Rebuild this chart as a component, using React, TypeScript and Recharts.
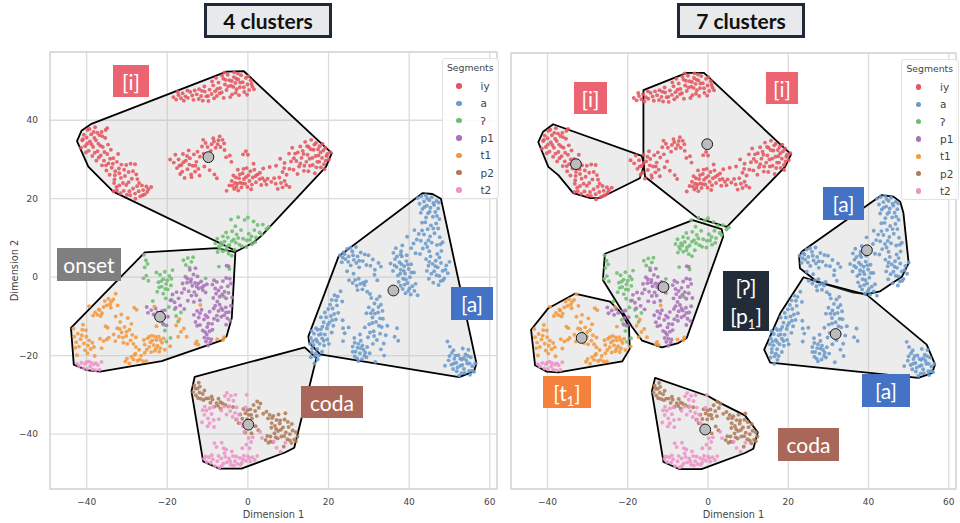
import React from 'react';
import { CartesianGrid, Legend, ReferenceArea, Scatter, ScatterChart, XAxis, YAxis } from 'recharts';

type Pair = [number, number];

const xTicks = [-40, -20, 0, 20, 40, 60];
const yTicks = [-40, -20, 0, 20, 40];
const xDomain: Pair = [-49.1, 61.8];
const yDomain: Pair = [-54, 57.4];

const segmentNames = ['iy', 'a', 'ʔ', 'p1', 't1', 'p2', 't2'];
const segmentColors = ['#e5555f', '#6b9bcb', '#70bd72', '#a972ba', '#f2993f', '#b17b58', '#ee93c8'];

const iyPoints: Pair[] = [
  [-18.5,45.9],[-17.8,45.3],[-17.2,46.4],[-16.6,45.6],[-16.2,46.9],[-15.5,46.1],[-14.9,45.7],[-14.3,47.2],[-13.8,46.3],[-13.2,47.6],[-12.7,46.6],[-12.1,47.9],[-11.6,46.2],[-11.2,45.0],[-10.7,47.3],[-10.3,46.1],[-9.8,44.9],[-9.5,47.8],[-9.0,46.7],[-8.6,48.9],[-8.1,47.4],[-7.7,46.2],[-7.3,49.6],[-6.9,48.2],[-6.5,47.1],[-6.1,50.6],[-5.7,49.1],[-5.3,47.7],[-5.0,51.6],[-4.6,50.2],[-4.2,48.8],[-3.9,46.6],[-3.5,51.0],[-3.1,49.5],[-2.8,47.9],[-2.4,50.4],[-2.0,48.4],[-1.7,51.5],[-1.3,49.7],[-0.9,47.2],[-0.5,50.8],[-0.1,49.1],[0.3,47.7],[0.7,50.2],[1.1,48.6],[-4.4,45.9],[-2.2,46.4],[-7.9,50.8],[-10.8,48.6],[-5.8,52.2],[-3.4,52.2],
  [-17.4,47.2],[-15.0,47.6],[-12.2,45.4],[-9.9,46.2],[-8.4,45.6],[-7.0,46.9],[-6.0,45.7],[-4.9,48.6],[-4.0,50.0],[-3.0,47.0],[-2.5,51.9],[-1.0,48.4],[-0.2,46.5],[0.1,51.2],[-6.4,51.4],[-7.6,48.0],[-8.9,49.9],[-11.4,47.5],[-13.5,45.2],[-15.9,45.0],[-2.9,50.6],[-5.5,50.3],[-1.9,49.6],[-3.6,48.5],[0.9,49.3],[1.5,47.9],
  [-41.1,34.9],[-40.7,36.3],[-40.4,33.4],[-40.0,35.6],[-39.8,37.5],[-39.5,32.2],[-39.2,34.6],[-38.9,36.4],[-38.6,30.9],[-38.4,33.2],[-38.1,35.5],[-37.9,38.2],[-37.6,29.7],[-37.3,32.1],[-37.1,34.0],[-36.8,36.2],[-36.5,31.0],[-36.2,28.5],[-36.0,33.2],[-35.7,29.7],[-35.4,35.5],[-35.1,27.2],[-34.9,31.4],[-34.6,29.0],[-34.3,26.1],[-34.0,32.5],[-33.8,27.9],[-33.4,30.3],[-33.1,24.9],[-32.9,27.0],[-32.5,29.4],[-32.2,31.4],[-31.9,26.5],[-31.4,28.7],[-35.3,37.5],[-34.9,38.0],
  [-41.4,33.0],[-40.2,31.8],[-39.3,37.8],[-38.8,33.9],[-38.0,31.7],[-37.7,34.9],[-37.0,30.5],[-36.6,33.5],[-36.1,35.9],[-35.6,31.9],[-35.2,28.5],[-34.7,33.8],[-34.2,30.2],[-33.5,28.9],[-33.0,26.0],[-32.0,27.7],[-31.5,25.3],[-40.9,35.2],[-39.9,34.0],[-38.3,37.0],[-37.4,36.8],[-36.3,37.0],[-30.5,25.8],[-28.8,25.1],[-29.4,21.9],[-31.9,23.4],[-27.9,20.0],[-27.0,24.0],[-26.1,20.9],[-25.0,21.7],
  [-30.7,27.4],[-30.2,28.6],[-29.6,26.8],[-29.1,28.9],[-28.5,27.0],[-28.0,28.8],[-27.7,26.2],[-27.4,25.0],[-33.2,24.0],[-32.6,23.0],[-31.0,24.0],[-30.2,23.5],[-29.6,24.2],[-33.3,21.9],[-32.5,22.1],[-31.6,21.4],[-30.8,22.0],[-30.0,21.0],[-29.2,20.9],[-28.5,22.6],[-28.0,21.3],[-27.5,23.2],[-27.1,21.9],[-26.7,20.6],[-26.3,23.4],[-26.0,22.2],[-25.6,21.1],[-25.2,23.1],[-24.7,22.4],[-24.0,23.0],
  [-19.3,30.0],[-18.4,29.2],[-18.0,31.2],[-17.6,27.8],[-17.2,30.0],[-16.8,26.3],[-16.5,28.6],[-16.1,31.4],[-15.7,25.3],[-15.4,29.7],[-15.0,27.5],[-14.7,32.3],[-14.4,30.3],[-14.1,26.2],[-13.7,28.4],[-13.4,31.3],[-13.1,26.9],[-12.8,29.4],[-12.3,27.6],[-11.9,30.7],[-11.4,33.3],[-11.1,35.0],[-10.8,28.2],[-10.5,34.2],[-10.0,33.2],[-9.5,27.3],[-9.0,33.9],[-8.6,35.4],[-8.3,26.2],[-8.0,33.0],[-7.7,25.2],[-7.3,34.9],[-6.8,33.2],[-6.3,35.0],[-5.8,32.4],[-5.4,30.6],[-4.5,31.0],[-4.1,29.4],
  [-17.0,28.4],[-16.0,29.3],[-15.1,30.9],[-14.5,28.7],[-14.0,25.5],[-13.0,28.4],[-12.5,32.0],[-12.0,25.9],[-11.0,31.5],[-10.2,29.7],[-9.2,32.2],[-8.4,34.6],[-7.5,33.9],[-7.0,35.9],[-5.9,34.1],[-16.3,26.9],
  [-5.3,22.0],[-4.6,23.4],[-4.0,24.5],[-3.6,25.9],[-3.2,24.0],[-2.9,23.0],[-2.5,27.4],[-2.2,25.2],[-1.9,24.1],[-1.6,22.9],[-1.3,26.5],[-1.0,25.0],[-0.7,23.8],[-0.3,27.8],[0.1,26.0],[0.4,24.5],[0.8,22.4],[1.2,25.4],[1.6,27.4],[2.0,24.2],[2.4,26.2],[2.9,25.0],[3.3,23.5],[3.8,27.7],[4.2,24.5],[4.6,23.6],[-1.2,31.3],[-0.5,32.1],[0.0,31.2],[1.4,28.9],[5.4,28.1],
  [-3.8,23.3],[-3.4,22.5],[-3.0,25.4],[-2.6,23.8],[-2.4,22.1],[-2.0,26.2],[-1.4,23.9],[-1.1,27.6],[-0.5,25.5],[-0.1,23.0],[0.6,27.0],[1.0,23.6],[1.9,25.8],[3.0,26.6],[3.6,25.2],[4.9,25.1],[6.5,25.2],
  [5.8,24.3],[6.9,23.8],[7.4,22.5],[7.8,25.4],[8.2,24.0],[8.6,22.9],[9.1,24.5],[9.5,23.5],[10.3,23.0],
  [7.0,28.4],[8.0,30.2],[8.6,26.8],[9.1,29.1],[9.6,26.1],[10.2,31.5],[10.7,29.5],[11.0,33.0],[11.3,27.4],[11.7,31.5],[12.0,29.6],[12.3,26.3],[12.7,28.2],[13.0,33.3],[13.3,30.4],[13.6,32.2],[13.9,27.1],[14.2,34.5],[14.5,29.4],[14.8,31.2],[15.1,33.2],[15.4,28.4],[15.7,35.0],[16.0,30.4],[16.3,32.5],[16.6,26.5],[16.9,34.2],[17.2,29.4],[17.5,31.0],[17.8,33.4],[18.1,28.0],[18.4,30.4],[18.7,32.3],[19.0,27.5],[19.3,29.7],[19.7,31.4],[20.1,30.0],[20.5,31.8],
  [13.0,29.0],[13.8,31.4],[14.0,28.4],[14.7,33.4],[15.0,27.0],[15.3,30.2],[15.6,32.6],[16.1,28.6],[16.5,33.8],[16.8,30.9],[17.0,28.0],[17.4,32.6],[17.7,29.4],[18.0,31.8],[18.5,34.0],[18.9,28.8],[19.2,33.0],[19.5,30.9],[9.0,27.8],[10.3,27.6],[11.4,30.3],[12.4,31.8],
];

const aPoints: Pair[] = [
  [42.1,20.2],[42.6,18.7],[43.0,20.6],[43.3,17.4],[43.7,19.3],[44.1,20.9],[44.4,18.2],[44.7,16.3],[45.0,19.6],[45.3,17.7],[45.6,20.4],[45.9,15.4],[46.2,18.4],[46.5,16.6],[46.8,19.4],[47.2,17.5],[47.5,14.8],[44.2,15.2],[43.2,13.9],[45.4,13.2],[46.7,13.7],[44.6,12.2],[47.2,12.4],[41.3,12.0],[42.4,11.0],[43.7,10.9],[45.2,10.4],[46.3,11.2],[47.6,10.2],[42.9,9.3],[44.1,8.6],[45.6,8.8],[46.9,8.2],[48.3,8.9],[41.1,8.6],[39.5,10.3],[43.4,7.3],[45.0,6.6],[47.0,5.9],[38.3,8.1],[36.7,7.4],[37.9,5.8],[41.6,6.1],[48.0,6.7],
  [42.9,16.4],[43.8,17.9],[44.5,20.1],[45.1,16.7],[46.0,18.9],[46.9,15.6],[47.4,19.0],[44.0,14.0],[46.0,12.4],[44.8,9.4],[43.2,11.9],[47.8,8.4],[41.9,9.6],[40.5,7.4],[42.7,5.9],[44.5,7.7],
  [44.2,4.6],[44.8,2.9],[45.3,5.3],[45.8,3.4],[46.2,1.5],[46.6,4.2],[47.1,2.5],[47.5,0.3],[47.9,3.6],[48.3,1.6],[48.7,-0.3],[49.2,3.0],[49.6,1.0],[46.0,-1.4],[47.3,-2.0],[44.9,-0.4],[50.0,3.9],[47.8,-1.0],[45.5,0.9],
  [45.0,3.9],[46.5,2.8],[47.5,5.0],[48.4,-0.8],[46.8,0.5],[49.0,1.9],[44.4,1.6],
  [35.4,3.5],[36.0,1.6],[36.5,4.6],[36.9,2.6],[37.2,0.4],[37.6,3.8],[37.9,1.9],[38.2,5.3],[38.5,-0.4],[38.8,2.8],[39.0,0.9],[39.3,4.1],[39.6,-1.5],[39.9,2.1],[40.2,0.0],[40.5,3.3],[40.8,-2.3],[37.4,-1.2],[38.4,-3.0],[39.1,-4.1],[40.4,-4.4],[41.3,-3.5],[38.0,6.6],[36.1,6.2],[39.4,5.6],[41.2,1.2],[41.6,-1.7],[42.1,-4.6],
  [36.4,3.0],[37.0,5.3],[37.8,0.9],[38.1,3.3],[38.7,1.6],[39.2,-0.6],[39.7,3.2],[40.1,-2.9],[40.6,1.2],[38.9,-1.9],[37.9,-2.2],[39.8,-3.5],
  [22.8,5.6],[23.3,3.8],[23.7,6.3],[24.2,4.6],[24.6,7.2],[25.0,5.3],[25.5,3.0],[25.9,6.6],[26.3,4.4],[24.6,1.5],[26.8,7.7],[27.2,5.3],[27.6,2.5],[28.0,6.3],[28.5,4.1],[29.0,5.8],[29.4,3.1],[29.9,5.6],[30.4,2.9],[31.0,4.5],[31.5,1.9],[32.4,3.6],[33.0,2.7],[26.2,0.9],[26.6,-0.7],[27.0,-2.2],[27.5,-0.4],[27.9,-1.7],[28.4,-3.1],[28.9,-2.0],[29.6,-3.7],[30.3,-4.3],[31.4,0.6],[25.1,-0.8],[32.1,-0.8],
  [24.0,5.9],[24.9,3.9],[25.4,7.5],[26.1,5.6],[26.9,3.6],[27.6,4.2],[23.5,5.0],[28.6,-1.4],[27.2,-3.3],[26.0,-1.5],[29.3,-1.1],
  [23.0,-3.6],[22.3,-4.9],[21.5,-4.6],[20.8,-5.8],[23.4,-6.2],[22.1,-7.2],[21.0,-8.0],[19.9,-8.1],[22.4,-9.1],[20.6,-9.9],[19.4,-10.2],[21.8,-10.8],[20.2,-11.6],[18.8,-11.5],[23.5,-11.0],[21.2,-12.4],[19.6,-13.1],[18.1,-13.3],[20.8,-14.1],[19.1,-14.6],[17.6,-14.7],[16.4,-14.4],[18.4,-15.6],[16.9,-15.9],[15.6,-15.5],[19.7,-15.9],[17.8,-17.0],[16.3,-17.3],[15.4,-17.0],[18.9,-17.4],[17.2,-18.3],[15.9,-19.1],[16.6,-20.1],[17.3,-21.0],[15.6,-20.4],[16.5,-22.0],[18.4,-19.0],[23.6,-16.3],[20.1,-17.0],
  [21.9,-5.9],[20.4,-7.0],[21.4,-9.4],[19.1,-9.0],[20.9,-11.0],[18.1,-10.2],[19.8,-12.2],[18.5,-12.6],[17.3,-13.4],[18.1,-14.5],[16.9,-13.0],[15.8,-13.7],[17.2,-16.4],[18.8,-16.2],[16.1,-16.3],[15.9,-18.2],[16.9,-19.4],[17.6,-20.0],
  [30.6,-5.3],[31.4,-6.7],[32.0,-5.6],[32.7,-4.9],[33.0,-7.0],[30.0,-7.7],[31.0,-8.4],[32.3,-9.0],[33.4,-8.6],[29.4,-9.2],[30.9,-10.3],[33.5,-10.6],[31.8,-11.4],[30.1,-12.0],[33.2,-12.7],[34.6,-12.4],[29.0,-12.8],[31.2,-13.8],[32.8,-14.4],[34.2,-14.8],[27.8,-14.6],[29.8,-15.3],[32.0,-16.0],[33.7,-16.9],[26.4,-15.5],[28.0,-16.2],[33.0,-18.4],[37.0,-13.0],[36.4,-15.2],[37.3,-16.2],[26.0,-17.7],[27.2,-18.0],[28.4,-17.4],[29.6,-17.8],[26.7,-19.0],[27.8,-19.4],[29.1,-19.2],[30.2,-19.4],[27.1,-20.7],[28.3,-20.9],[29.4,-20.4],[25.0,-12.8],[24.0,-14.3],[23.6,-13.0],[31.0,-17.0],[33.8,-20.0],[31.6,-21.6],
  [27.4,-17.0],[26.5,-16.7],[28.7,-18.5],[26.0,-19.0],[28.0,-18.1],[27.4,-21.4],[28.9,-20.0],[26.5,-20.2],[30.9,-11.7],[31.5,-9.3],[32.5,-12.4],[31.3,-15.0],[30.3,-14.1],[32.4,-7.6],[30.5,-9.2],[32.8,-10.5],
  [49.5,-16.4],[50.1,-17.7],[50.6,-19.3],[49.8,-21.2],[50.5,-22.3],[48.9,-22.6],[51.2,-20.8],[51.7,-21.8],[52.2,-19.9],[52.7,-22.6],[53.1,-21.0],[53.6,-23.4],[54.0,-19.7],[54.4,-22.0],[54.9,-23.9],[55.3,-20.4],[55.7,-22.7],[56.1,-24.1],[53.0,-24.5],[51.8,-24.0],[52.4,-25.1],[54.7,-18.5],[55.1,-24.9],[51.0,-18.6],[53.3,-18.2],[56.4,-22.0],
  [50.9,-23.4],[51.5,-20.0],[52.0,-23.0],[52.7,-20.8],[53.2,-22.4],[53.8,-24.4],[54.2,-21.2],[54.6,-20.1],[55.0,-22.0],[53.6,-20.6],[55.6,-23.9],[51.1,-22.0],[50.0,-20.1],
];

const glottalPoints: Pair[] = [
  [-8.1,8.6],[-7.6,9.8],[-7.2,7.9],[-6.7,8.8],[-6.2,10.4],[-5.8,9.1],[-5.4,11.4],[-5.0,10.1],[-4.6,8.2],[-4.2,14.7],[-3.9,11.7],[-3.5,9.6],[-3.1,13.0],[-2.8,10.9],[-2.4,15.3],[-2.1,8.3],[-1.7,12.0],[-1.2,9.8],[-0.8,14.6],[-0.4,7.7],[0.0,15.2],[0.2,11.1],[0.5,9.5],[1.0,8.4],[1.4,14.2],[1.6,12.0],[2.0,10.1],[2.4,13.3],[2.9,11.4],[3.4,10.9],[3.7,13.4],[4.6,12.3],[5.2,12.8],[-3.3,7.0],
  [-6.4,8.2],[-5.2,7.8],[-4.0,9.2],[-3.0,8.8],[-2.4,10.0],[-1.5,7.9],[-0.3,9.4],[1.8,8.9],[0.9,10.4],[-21.5,-1.0],[-20.5,-3.0],[-20.0,-0.8],[-19.0,-0.4],[-22.0,-2.6],
  [-25.8,5.7],[-25.3,4.3],[-25.6,2.5],[-24.9,3.4],[-25.9,-0.3],[-25.2,0.4],[-24.7,-0.9],
  [-22.7,1.2],[-22.2,-1.3],[-21.8,0.6],[-21.4,-2.4],[-21.0,-0.5],[-20.6,1.4],[-20.3,-1.7],[-19.9,-3.1],[-19.5,0.3],[-19.1,-2.1],[-18.7,1.8],[-22.5,-3.7],[-21.0,-4.2],
  [-23.6,-6.1],[-20.4,-5.4],[-19.6,-7.6],[-18.9,-5.8],[-18.2,-8.2],[-17.8,-9.9],[-16.6,-9.0],
  [-16.0,4.3],[-15.4,3.1],[-14.9,4.9],[-14.5,2.5],[-14.0,3.9],[-13.6,5.1],
  [-7.5,6.4],[-7.0,7.3],[-6.2,6.6],[-5.4,7.0],[-4.8,6.0],[-4.0,5.5],[-7.2,2.7],[-4.6,2.1],[-10.5,-0.3],[-6.0,-4.9],
  [-20.9,-12.1],[-20.6,-13.6],[-20.2,-16.4],[-19.2,-15.5],[-21.5,-10.8],[-17.3,-11.3],
];

const p1Points: Pair[] = [
  [-16.2,-1.6],[-15.8,-3.0],[-15.5,0.1],[-15.1,-1.4],[-14.7,-3.6],[-14.4,1.9],[-14.1,-0.6],[-13.8,-2.2],[-13.5,0.7],[-13.1,-1.5],[-12.8,-4.6],[-12.5,0.2],[-12.2,-2.9],[-11.9,-5.9],[-11.6,-1.1],[-11.2,-3.3],[-10.9,-2.2],[-10.5,-3.9],[-10.2,-1.8],[-14.9,-6.0],[-13.4,-6.3],[-13.0,2.3],
  [-15.0,-0.4],[-14.2,-1.2],[-13.3,-3.8],[-12.3,-1.6],[-11.4,-2.6],[-14.0,-4.7],[-12.7,-2.4],[-7.9,-4.2],[-6.4,-4.4],[-5.4,-5.4],[-4.8,-4.0],[-11.9,-9.2],[-10.0,-10.2],[-8.9,-11.9],[-7.5,-11.0],[-6.6,-7.9],[-5.4,-9.0],[-9.9,-15.6],[-9.3,-16.6],[-10.6,-14.0],[-8.5,-8.0],[-12.6,-12.4],
  [-8.8,-1.9],[-8.4,-0.8],[-8.1,-2.9],[-7.7,-1.2],[-7.3,-3.4],[-7.0,-5.0],[-6.6,-2.6],[-6.2,-1.0],[-5.8,-3.7],[-5.4,-0.2],[-5.0,-2.3],[-4.5,-0.4],[-4.2,-1.6],[-4.8,2.8],[-5.3,2.9],[-3.9,-5.2],
  [-13.4,-9.6],[-13.0,-11.4],[-12.6,-8.6],[-12.2,-10.3],[-11.9,-12.2],[-11.5,-8.3],[-11.2,-13.6],[-10.9,-10.8],[-10.5,-9.7],[-10.2,-14.6],[-9.8,-11.8],[-9.5,-8.8],[-9.1,-15.8],[-8.8,-13.4],[-8.4,-10.6],[-8.1,-7.3],[-7.7,-9.8],[-7.3,-8.6],[-7.0,-7.0],[-6.6,-10.1],[-6.3,-8.4],[-5.9,-9.7],[-5.5,-7.7],[-5.1,-10.5],[-4.7,-8.9],[-4.4,-11.1],[-4.2,-7.3],[-5.4,-12.1],[-10.4,-16.4],[-9.9,-17.4],[-10.8,-15.4],[-9.5,-13.8],[-10.1,-12.7],[-7.6,-6.2],[-8.6,-5.3],
  [-25.1,-7.6],[-24.8,-9.1],[-24.0,-8.4],[-23.4,-9.5],[-22.9,-8.0],[-22.4,-9.0],[-21.3,-8.6],[-20.8,-10.3],[-21.1,-11.8],[-20.2,-12.3],[-20.6,-8.4],[-19.8,-10.1],[-19.2,-5.9],[-18.7,-4.4],[-18.2,-6.4],[-17.7,-3.8],[-17.2,-5.4],[-16.8,-7.2],[-16.4,-4.0],[-15.8,-8.1],[-17.9,-7.8],
];

const t1Points: Pair[] = [
  [-39.4,-7.4],[-38.4,-9.8],[-37.9,-9.0],[-37.3,-9.6],[-36.8,-8.4],[-36.2,-9.2],[-35.8,-7.6],[-35.5,-6.1],[-35.0,-7.2],[-34.6,-5.5],[-34.2,-6.9],[-33.9,-6.2],[-33.4,-5.7],[-32.8,-4.2],[-32.3,-7.2],
  [-42.8,-18.0],[-41.2,-14.8],[-39.8,-19.4],[-40.2,-13.5],[-37.0,-8.2],[-36.5,-9.9],[-34.0,-7.8],[-31.8,-13.2],[-31.0,-15.4],[-30.1,-13.9],[-29.9,-17.0],[-28.9,-11.9],[-28.1,-19.8],[-26.8,-21.0],[-24.5,-15.2],[-23.7,-16.1],[-23.0,-15.2],[-22.8,-18.2],[-21.7,-16.0],[-22.0,-19.0],[-25.1,-18.5],
  [-43.3,-13.1],[-43.1,-15.2],[-42.6,-16.6],[-42.2,-14.4],[-41.9,-17.7],[-41.5,-15.8],[-41.1,-13.4],[-40.7,-16.9],[-40.4,-18.6],[-40.1,-15.2],[-39.7,-17.4],[-39.4,-16.1],[-39.0,-18.3],[-38.6,-16.7],[-38.2,-17.8],[-42.4,-19.9],[-40.9,-12.1],
  [-36.7,-15.7],[-35.8,-16.3],[-35.0,-15.9],[-34.5,-15.4],[-36.3,-18.1],[-38.0,-20.1],
  [-33.3,-14.6],[-32.9,-16.3],[-32.4,-13.0],[-32.0,-15.2],[-31.7,-11.4],[-31.3,-14.1],[-30.9,-16.7],[-30.6,-12.7],[-30.2,-15.0],[-29.8,-10.4],[-29.4,-13.4],[-29.1,-16.1],[-28.7,-14.7],[-28.4,-17.0],[-27.8,-15.3],[-31.4,-9.5],[-32.8,-10.0],[-28.2,-7.8],[-27.6,-8.3],[-34.8,-12.9],[-35.3,-12.5],
  [-30.4,-21.5],[-30.0,-20.8],[-29.4,-22.0],[-28.9,-20.3],[-28.4,-21.0],[-27.9,-19.5],[-27.4,-21.3],[-27.0,-18.5],[-26.5,-20.0],[-26.0,-21.4],[-25.6,-19.3],[-25.2,-21.4],[-27.8,-17.8],
  [-25.8,-16.0],[-25.6,-17.2],[-24.9,-15.6],[-24.5,-17.8],[-24.2,-16.6],[-23.8,-14.9],[-23.4,-17.3],[-23.1,-18.8],[-22.7,-16.0],[-22.4,-17.5],[-22.1,-15.2],[-21.7,-18.1],[-21.3,-16.7],[-20.9,-15.6],[-20.6,-18.5],[-24.0,-19.1],[-23.2,-7.5],[-22.7,-12.5],[-19.3,-17.6],
  [-17.8,-12.3],[-17.0,-10.7],[-16.6,-13.9],[-15.9,-13.1],[-15.2,-15.2],[-17.3,-15.2],[-13.0,-17.0],[-12.7,-16.4],[-12.3,-17.2],[-11.8,-7.1],[-7.6,-15.8],[-6.2,-16.0],[-5.9,-15.3],
];

const p2Points: Pair[] = [
  [-13.6,-29.3],[-13.3,-27.6],[-12.9,-30.1],[-12.5,-28.4],[-12.2,-26.9],[-12.0,-29.4],[-11.7,-31.0],[-11.2,-29.8],[-10.8,-28.9],[-10.4,-30.9],
  [-13.0,-28.4],[-11.9,-27.9],[-12.4,-30.8],[-11.0,-31.3],[-9.0,-30.4],[-7.4,-32.8],[-1.1,-33.6],[-0.1,-33.9],[0.8,-35.1],[2.2,-35.4],[6.0,-35.9],[7.0,-38.7],[8.2,-38.9],[9.0,-40.5],[8.0,-36.5],[10.4,-41.6],[10.9,-37.4],[11.9,-41.8],[6.9,-40.8],[5.6,-41.9],[4.8,-40.5],[9.9,-36.9],
  [-9.8,-30.9],[-9.3,-32.0],[-8.8,-31.2],[-8.3,-33.0],[-7.8,-32.1],[-7.3,-31.0],[-6.8,-33.5],[-6.3,-32.2],[-5.6,-32.6],[-4.8,-33.0],[-3.7,-33.1],[-6.8,-31.9],
  [-2.9,-36.3],[-2.3,-37.2],[-1.9,-35.0],[-1.4,-36.1],[-1.0,-37.7],[-0.6,-34.7],[-0.2,-36.2],[0.2,-35.1],[0.6,-33.7],[1.0,-36.0],[1.4,-32.6],[1.8,-34.1],[2.3,-31.7],[2.7,-33.3],[3.1,-32.2],[-0.7,-39.6],[0.9,-39.8],[1.9,-38.0],[2.6,-39.0],
  [4.6,-34.3],[5.0,-36.0],[5.4,-35.1],[5.9,-37.2],[6.3,-35.4],[6.7,-37.9],[7.1,-36.4],[7.5,-39.2],[7.9,-37.3],[8.3,-40.6],[8.7,-38.3],[9.1,-36.3],[9.4,-39.6],[9.8,-41.3],[10.1,-38.2],[10.4,-40.0],[10.8,-42.3],[11.1,-39.1],[11.5,-41.4],[11.9,-39.5],[12.3,-40.6],[4.4,-41.5],[5.1,-42.2],[5.6,-40.6],[6.2,-42.0],[7.4,-41.1],[8.9,-43.2],[6.6,-39.8],[3.8,-34.8],[9.3,-34.7],[5.8,-38.4],[7.6,-35.0],
];

const t2Points: Pair[] = [
  [-42.4,-22.1],[-41.9,-22.7],[-41.3,-21.8],[-40.8,-23.2],[-40.4,-22.1],[-39.9,-23.4],[-39.5,-21.5],[-39.1,-22.7],[-38.6,-23.5],[-38.2,-22.2],[-37.8,-23.7],[-37.2,-22.4],[-36.8,-23.6],[-36.3,-21.6],
  [-10.5,-45.7],[-9.0,-45.4],[-7.3,-45.6],[-6.5,-48.1],[-5.8,-44.9],[-4.4,-46.9],[-3.5,-48.0],[-2.9,-45.7],[-1.8,-47.8],[-1.2,-46.4],[0.3,-46.1],[-40.1,-21.7],[-38.9,-21.8],[-37.7,-21.9],[-4.6,-32.9],[-6.6,-34.0],[-7.2,-36.2],[-10.7,-33.0],[-9.5,-37.2],
  [-11.2,-33.9],[-10.8,-35.1],[-10.3,-34.0],[-9.9,-36.0],[-9.5,-33.4],[-9.0,-34.9],[-8.5,-36.4],[-8.6,-33.1],[-10.0,-38.0],[-11.4,-37.0],[-8.4,-38.2],
  [-5.7,-30.3],[-5.2,-29.5],[-4.8,-31.2],[-4.2,-30.2],[-3.6,-31.5],[-3.1,-30.0],[-2.8,-33.2],[-5.9,-33.0],[-5.3,-35.0],[-4.4,-34.1],[-3.8,-35.6],[-3.2,-34.6],[-2.7,-36.2],[-2.2,-35.0],[-1.8,-37.2],[-1.2,-38.1],[-0.3,-30.0],[-0.6,-33.2],[-0.9,-39.4],[0.2,-41.0],[1.2,-40.8],[3.0,-39.4],[3.5,-41.0],[7.1,-43.5],[8.1,-44.5],[6.4,-41.9],[9.3,-42.2],
  [-10.9,-46.3],[-10.2,-47.1],[-9.7,-45.9],[-9.2,-47.3],[-8.7,-46.4],[-8.2,-48.2],[-7.6,-46.9],[-7.1,-48.5],[-6.6,-46.2],[-6.1,-47.5],[-5.6,-45.8],[-5.2,-47.2],[-4.7,-46.2],[-4.2,-47.8],[-3.7,-45.6],[-3.2,-46.9],[-2.6,-47.6],[-2.0,-46.1],[-1.5,-47.3],[-1.0,-45.5],[-0.5,-46.8],[0.0,-45.7],[0.6,-47.0],[1.1,-45.9],[1.7,-46.6],[2.3,-45.6],[-8.3,-42.3],[-7.8,-43.3],[-6.5,-42.2],[-6.0,-43.6],[-5.4,-43.9],[-4.0,-44.4],[-1.4,-43.6],[-0.4,-42.7],[0.4,-43.6],[0.8,-42.0],
];

const segmentPoints = [iyPoints, aPoints, glottalPoints, p1Points, t1Points, p2Points, t2Points];

// cluster outlines, 4 cluster panel
const hulls4: Pair[][] = [
  [[-42.4,34.7],[-41.3,37.3],[-38.8,39.1],[-5.3,52.4],[-1,52.5],[20.8,31.6],[19.4,28.2],[3.4,10.6],[1.2,8.7],[-2.8,6.6],[-33.4,21.8],[-36.7,25.2],[-39.6,28.2]],
  [[-25.6,6.3],[-7.8,7.4],[-3.1,6.4],[-4,-10.4],[-5.3,-15.1],[-6.5,-16.1],[-21.4,-21.4],[-36.7,-24.1],[-40,-23.7],[-43.2,-22.3],[-43.9,-12.9]],
  [[-13.2,-25.4],[-14,-29.1],[-11.1,-47],[-7.1,-48.8],[-1.6,-48.8],[9.2,-44.7],[11.5,-43.5],[17,-20.6],[14.1,-17.9]],
  [[22.5,5.3],[43.3,21.4],[45.8,21.2],[47.9,20],[56.7,-22],[56.1,-24],[52.4,-25.5],[17.9,-19.7],[15.2,-16.7],[15,-15.1]],
];

// cluster outlines, 7 cluster panel
const hulls7: Pair[][] = [
  [[-42.3,34.6],[-41.1,37.3],[-38.6,39.2],[-16.5,31.1],[-15.9,28.8],[-17,25.4],[-26.8,20.4],[-29.3,20.3],[-33.6,21.6],[-37.3,26.2],[-39.8,28.3]],
  [[-16.1,47.9],[-5.3,52.3],[-1,52.3],[20.7,31.5],[19.2,28.3],[4.7,13],[-2.6,15.2],[-15.7,25.8],[-16.1,29.2]],
  [[-3.8,14.7],[3.4,12.4],[3.8,10.5],[-5.3,-15.4],[-7.4,-16.7],[-11.5,-17.8],[-16.4,-16.1],[-19,-12.5],[-26.2,-0.6],[-25.7,6.1]],
  [[-33.2,-4.1],[-24.4,-6.1],[-21.5,-9.1],[-19.7,-12.5],[-19.5,-18.2],[-21.4,-21.4],[-37.3,-24.2],[-40.2,-24],[-43.1,-22.4],[-44.1,-13.3],[-39.8,-7.8]],
  [[-13.2,-25.6],[-14,-29.1],[-11.1,-47.1],[-7.2,-48.9],[-1.6,-48.9],[9.2,-44.8],[11.3,-43.7],[12.4,-39.5],[9.2,-35.2],[3,-32],[0.1,-30.3]],
  [[43.3,21.1],[46.2,20.7],[47.9,19.4],[48.7,16.5],[50,3.7],[48.3,0.2],[42.9,-3.5],[39.6,-4.2],[36.2,-3.8],[27.1,-1],[22.9,2.4],[22.7,5.4],[23.4,6.7]],
  [[23.8,0.1],[27.1,-1],[39.6,-4.4],[54.5,-17.1],[56.6,-22.2],[55.8,-24.4],[52.4,-25.6],[15.5,-21.7],[14,-18.4],[18,-9.1]],
];

const centroids4: Pair[] = [[-9.8,30.6],[-21.8,-10.1],[36.1,-3.4],[0.1,-37.6]];
const centroids7: Pair[] = [[-32.9,29],[-0.2,34.1],[-11.1,-2.4],[-31.5,-15.4],[-0.7,-38.8],[39.6,7],[31.8,-14.4]];

const toXY = (pairs: Pair[]) => pairs.map(([x, y]) => ({ x, y }));

const renderHull = (props: any) => {
  const d = 'M' + props.points.map((p: any) => `${p.x},${p.y}`).join('L') + 'Z';
  return <path d={d} fill="#b4b4b4" fillOpacity={0.26} stroke="#000" strokeWidth={1.8} strokeLinejoin="round" />;
};

const renderDot = (props: any) => (
  <circle cx={props.cx} cy={props.cy} r={1.95} fill={props.fill} fillOpacity={0.88} />
);

const renderCentroid = (props: any) => (
  <circle cx={props.cx} cy={props.cy} r={5.4} fill="#bcbcbc" stroke="#1a1a1a" strokeWidth={1} />
);

const SegmentLegend = (props: any) => (
  <div style={{ boxSizing: 'border-box', height: 141, background: 'rgba(255,255,255,0.85)', border: '1px solid #e2e2e2', borderRadius: 3, fontFamily: 'DejaVu Sans', color: '#444' }}>
    <div style={{ fontSize: 9.3, lineHeight: '12px', textAlign: 'center', marginTop: 3, marginBottom: 4 }}>Segments</div>
    {props.payload.filter((entry: any) => segmentNames.includes(entry.value)).map((entry: any) => (
      <div key={entry.value} style={{ display: 'flex', alignItems: 'center', height: 17.3, fontSize: 10.5 }}>
        <span style={{ width: 5.5, height: 5.5, borderRadius: '50%', background: entry.color, marginLeft: 13.5, marginRight: 19 }} />
        {entry.value}
      </div>
    ))}
  </div>
);

const tickStyle = { fontSize: 9, fill: '#444', fontFamily: 'DejaVu Sans' };
const axisLabelStyle = { fontSize: 9.8, fill: '#444', fontFamily: 'DejaVu Sans' };
const minusTick = (v: number) => String(v).replace('-', '−');

type PanelProps = {
  left: number;
  width: number;
  top: number;
  marginRight: number;
  yAxisWidth: number;
  showY: boolean;
  hulls: Pair[][];
  centroids: Pair[];
  legendLeft: number;
  legendTop: number;
};

function ClusterPanel(p: PanelProps) {
  return (
    <div style={{ position: 'absolute', left: p.left, top: 0 }}>
      <ScatterChart width={p.width} height={523} margin={{ top: p.top, right: p.marginRight, bottom: 0, left: 0 }}>
        <CartesianGrid stroke="#dcdcdc" strokeWidth={1.3} />
        <ReferenceArea x1={xDomain[0]} x2={xDomain[1]} y1={yDomain[0]} y2={yDomain[1]} fill="none" stroke="#d8d8d8" strokeWidth={1.3} />
        <XAxis
          type="number"
          dataKey="x"
          domain={xDomain}
          ticks={xTicks}
          allowDataOverflow
          interval={0}
          tickLine={false}
          axisLine={false}
          tick={tickStyle}
          tickFormatter={minusTick}
          tickMargin={4}
          height={34}
          label={{ value: 'Dimension 1', position: 'insideBottom', offset: 5, style: axisLabelStyle }}
        />
        <YAxis
          type="number"
          dataKey="y"
          domain={yDomain}
          ticks={yTicks}
          allowDataOverflow
          interval={0}
          tickLine={false}
          axisLine={false}
          tick={p.showY ? tickStyle : false}
          tickFormatter={minusTick}
          tickMargin={6}
          width={p.yAxisWidth}
          label={p.showY ? { value: 'Dimension 2', angle: -90, position: 'insideLeft', offset: 15, style: { ...axisLabelStyle, textAnchor: 'middle' } } : undefined}
        />
        {p.hulls.map((hull, i) => (
          <Scatter key={i} data={toXY(hull)} line={renderHull} shape={() => <g />} legendType="none" isAnimationActive={false} />
        ))}
        {segmentNames.map((name, i) => (
          <Scatter key={name} name={name} data={toXY(segmentPoints[i])} fill={segmentColors[i]} shape={renderDot} isAnimationActive={false} />
        ))}
        <Scatter data={toXY(p.centroids)} shape={renderCentroid} legendType="none" isAnimationActive={false} />
        <Legend
          layout="vertical"
          align="center"
          verticalAlign="middle"
          itemSorter={null}
          content={SegmentLegend}
          wrapperStyle={{ left: p.legendLeft, top: p.legendTop, width: 57.5, height: 141 }}
        />
      </ScatterChart>
    </div>
  );
}

type Tag = { text: React.ReactNode; x: number; y: number; w: number; h: number; color: string };

const sub1 = <sub style={{ fontSize: 13, lineHeight: 0 }}>1</sub>;

const tags: Tag[] = [
  { text: '[i]', x: 113, y: 65, w: 36, h: 32, color: '#ec6472' },
  { text: 'onset', x: 57, y: 248, w: 64, h: 33, color: '#7f7f7f' },
  { text: '[a]', x: 451, y: 287, w: 42, h: 33, color: '#4472c4' },
  { text: 'coda', x: 301, y: 386, w: 62, h: 32, color: '#a9675a' },
  { text: '[i]', x: 574, y: 82, w: 33, h: 32, color: '#ec6472' },
  { text: '[i]', x: 766, y: 72, w: 32, h: 32, color: '#ec6472' },
  { text: '[a]', x: 823, y: 187, w: 41, h: 33, color: '#4472c4' },
  { text: <>[ʔ]<br />[p{sub1}]</>, x: 723, y: 271, w: 46, h: 60, color: '#222b38' },
  { text: '[a]', x: 862, y: 374, w: 48, h: 33, color: '#4472c4' },
  { text: 'coda', x: 778, y: 428, w: 61, h: 33, color: '#a9675a' },
  { text: <>[t{sub1}]</>, x: 543, y: 376, w: 48, h: 32, color: '#f4823c' },
];

const titles = [
  { text: '4 clusters', x: 204 },
  { text: '7 clusters', x: 677 },
];

export default function App() {
  return (
    <div style={{ position: 'absolute', left: 0, top: 0, width: 960, height: 523, background: '#fff', overflow: 'hidden' }}>
      <ClusterPanel left={0} width={505} top={52} marginRight={8} yAxisWidth={50} showY hulls={hulls4} centroids={centroids4} legendLeft={441.5} legendTop={57.5} />
      <ClusterPanel left={505} width={455} top={53} marginRight={4} yAxisWidth={6} showY={false} hulls={hulls7} centroids={centroids7} legendLeft={396} legendTop={58.5} />
      {titles.map((t) => (
        <div key={t.text} style={{ position: 'absolute', boxSizing: 'border-box', left: t.x, top: 3, width: 128, height: 35, border: '3px solid #1f2937', background: '#e8e9ea', fontFamily: 'Lato', fontWeight: 700, fontSize: 21, color: '#111', display: 'flex', alignItems: 'center', justifyContent: 'center' }}>
          {t.text}
        </div>
      ))}
      {tags.map((t, i) => (
        <div key={i} style={{ position: 'absolute', left: t.x, top: t.y, width: t.w, height: t.h, background: t.color, color: '#fff', fontFamily: 'Lato, "Noto Sans"', fontSize: 21, lineHeight: '29px', textAlign: 'center', display: 'flex', alignItems: 'center', justifyContent: 'center' }}>
          <div>{t.text}</div>
        </div>
      ))}
    </div>
  );
}
